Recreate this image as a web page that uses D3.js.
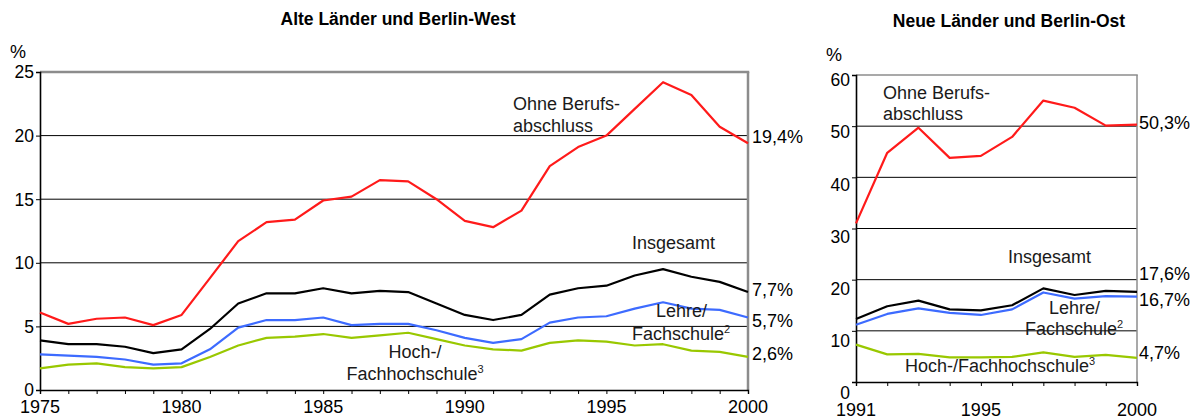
<!DOCTYPE html>
<html>
<head>
<meta charset="utf-8">
<script src="https://cdn.jsdelivr.net/npm/d3@7"></script>
<style>
  body { margin: 0; background: #fff; }
  svg { font-family: "Liberation Sans", Arial, sans-serif; }
</style>
</head>
<body>
<div id="chart"></div>
<script>
// Alte Länder und Berlin-West (1975-2000)
const yearsWest = [1975,1976,1977,1978,1979,1980,1981,1982,1983,1984,1985,1986,1987,
                   1988,1989,1990,1991,1992,1993,1994,1995,1996,1997,1998,1999,2000];
const westOhne   = [6.1,5.2,5.6,5.7,5.1,5.9,8.8,11.7,13.2,13.4,14.9,15.2,16.5,16.4,15.0,13.3,12.8,14.1,17.6,19.1,20.0,22.1,24.2,23.2,20.7,19.4];
const westGesamt = [3.9,3.6,3.6,3.4,2.9,3.2,4.8,6.8,7.6,7.6,8.0,7.6,7.8,7.7,6.8,5.9,5.5,5.9,7.5,8.0,8.2,9.0,9.5,8.9,8.5,7.7];
const westLehre  = [2.8,2.7,2.6,2.4,2.0,2.1,3.2,4.9,5.5,5.5,5.7,5.1,5.2,5.2,4.7,4.1,3.7,4.0,5.3,5.7,5.8,6.4,6.9,6.4,6.3,5.7];
const westHoch   = [1.7,2.0,2.1,1.8,1.7,1.8,2.6,3.5,4.1,4.2,4.4,4.1,4.3,4.5,4.0,3.5,3.2,3.1,3.7,3.9,3.8,3.5,3.6,3.1,3.0,2.6];
const westYTicks = [0,5,10,15,20,25];
const westXLabels = [1975,1980,1985,1990,1995,2000];

// Neue Länder und Berlin-Ost (1991-2000)
const yearsEast = [1991,1992,1993,1994,1995,1996,1997,1998,1999,2000];
const eastOhne   = [31.0,44.8,49.7,43.8,44.2,47.9,55.0,53.6,50.1,50.3];
const eastGesamt = [12.3,14.8,15.9,14.2,14.0,15.0,18.3,17.0,17.8,17.6];
const eastLehre  = [11.2,13.3,14.4,13.5,13.1,14.2,17.5,16.3,16.8,16.7];
const eastHoch   = [7.3,5.4,5.5,4.8,4.8,4.9,5.8,4.9,5.3,4.7];
const eastYTicks = [0,10,20,30,40,50,60];
const eastXLabels = [1991,1995,2000];

const colors = { ohne: "#ff1a1a", gesamt: "#000000", lehre: "#3d6bff", hoch: "#99c800" };

const svg = d3.select("#chart").append("svg")
  .attr("width", 1200)
  .attr("height", 419);

const fmt = v => d3.format(".1f")(v).replace(".", ",") + "%";

function drawPanel(p) {
  const g = svg.append("g");
  const x = d3.scaleLinear().domain(d3.extent(p.years)).range([p.left, p.right]);
  const y = d3.scaleLinear().domain([0, d3.max(p.yTicks)]).range([p.bottom, p.top]);

  // title and unit
  g.append("text").attr("x", p.titleX).attr("y", p.titleY)
    .attr("text-anchor", "middle").attr("font-weight", "bold").attr("font-size", 17.5)
    .text(p.title);
  g.append("text").attr("x", p.left - 30).attr("y", p.top - 14)
    .attr("font-size", 18).text("%");

  // gridlines
  g.selectAll(".grid").data(p.yTicks.filter(t => t > 0 && t < d3.max(p.yTicks)))
    .enter().append("line")
    .attr("x1", p.left).attr("x2", p.right)
    .attr("y1", d => y(d)).attr("y2", d => y(d))
    .attr("stroke", "#000").attr("stroke-width", 1);

  // frame top and right
  g.append("line").attr("x1", p.left).attr("x2", p.right + p.frameW / 2)
    .attr("y1", y(d3.max(p.yTicks))).attr("y2", y(d3.max(p.yTicks)))
    .attr("stroke", "#8c8c8c").attr("stroke-width", p.frameW);
  g.append("line").attr("x1", p.right).attr("x2", p.right)
    .attr("y1", p.top).attr("y2", p.bottom)
    .attr("stroke", "#8c8c8c").attr("stroke-width", p.frameW);

  // axes
  const yAxis = g.append("g").attr("transform", `translate(${p.left},0)`)
    .call(d3.axisLeft(y).tickValues(p.yTicks).tickSize(4).tickFormat(""));
  yAxis.select(".domain").attr("stroke-width", 1.6);
  const xAxis = g.append("g").attr("transform", `translate(0,${p.bottom})`)
    .call(d3.axisBottom(x).tickValues(p.years).tickSize(4).tickFormat(""));
  xAxis.select(".domain").attr("stroke-width", 1.4);

  g.selectAll(".ylab").data(p.yTicks).enter().append("text")
    .attr("x", p.left - 6)
    .attr("y", d => y(d) + p.yLabOffset(d))
    .attr("dy", "0.36em")
    .attr("text-anchor", "end").attr("font-size", 17.5)
    .text(d => d);

  g.selectAll(".xlab").data(p.xLabels).enter().append("text")
    .attr("x", d => x(d)).attr("y", p.bottom + p.xLabDy)
    .attr("text-anchor", "middle").attr("font-size", 18)
    .text(d => d);

  // lines
  const line = d3.line().x((d, i) => x(p.years[i])).y(d => y(d));
  p.series.forEach(s => {
    g.append("path").datum(s.values)
      .attr("d", line)
      .attr("fill", "none")
      .attr("stroke", s.color)
      .attr("stroke-width", 2.2)
      .attr("stroke-linejoin", "round");
    // end value label
    g.append("text")
      .attr("x", p.right + p.endDx)
      .attr("y", y(s.values[s.values.length - 1]) + s.endDy)
      .attr("font-size", 18)
      .text(fmt(s.values[s.values.length - 1]));
  });

  // annotations
  p.notes.forEach(n => {
    const t = g.append("text").attr("x", n.x).attr("y", n.y)
      .attr("font-size", 18).attr("text-anchor", n.anchor || "start")
      .attr("fill", "#1a1a1a");
    t.append("tspan").text(n.text);
    if (n.sup) {
      t.append("tspan").attr("font-size", 11).attr("dy", -7).text(n.sup);
    }
  });
}

drawPanel({
  title: "Alte Länder und Berlin-West", titleX: 398, titleY: 25,
  years: yearsWest, yTicks: westYTicks, xLabels: westXLabels,
  left: 40, right: 748, top: 72, bottom: 390, frameW: 2.5,
  yLabOffset: () => 0, xLabDy: 23, endDx: 4,
  series: [
    { values: westOhne, color: colors.ohne, endDy: 0 },
    { values: westGesamt, color: colors.gesamt, endDy: 4 },
    { values: westLehre, color: colors.lehre, endDy: 9.5 },
    { values: westHoch, color: colors.hoch, endDy: 3 }
  ],
  notes: [
    { text: "Ohne Berufs-", x: 513, y: 110 },
    { text: "abschluss", x: 513, y: 132 },
    { text: "Insgesamt", x: 632, y: 249 },
    { text: "Lehre/", x: 656, y: 317 },
    { text: "Fachschule", sup: "2", x: 632, y: 340 },
    { text: "Hoch-/", x: 415, y: 358, anchor: "middle" },
    { text: "Fachhochschule", sup: "3", x: 415, y: 380, anchor: "middle" }
  ]
});

drawPanel({
  title: "Neue Länder und Berlin-Ost", titleX: 1009, titleY: 27,
  years: yearsEast, yTicks: eastYTicks, xLabels: eastXLabels,
  left: 856, right: 1137, top: 75, bottom: 382, frameW: 1.5,
  yLabOffset: d3.scaleLinear().domain([0, 60]).range([11, 5]), xLabDy: 33.5, endDx: 2,
  series: [
    { values: eastOhne, color: colors.ohne, endDy: 4 },
    { values: eastGesamt, color: colors.gesamt, endDy: -11.5 },
    { values: eastLehre, color: colors.lehre, endDy: 9 },
    { values: eastHoch, color: colors.hoch, endDy: 1 }
  ],
  notes: [
    { text: "Ohne Berufs-", x: 883, y: 99 },
    { text: "abschluss", x: 883, y: 120 },
    { text: "Insgesamt", x: 1008, y: 263 },
    { text: "Lehre/", x: 1049, y: 314 },
    { text: "Fachschule", sup: "2", x: 1025, y: 335 },
    { text: "Hoch-/Fachhochschule", sup: "3", x: 905, y: 372 }
  ]
});
</script>
</body>
</html>
